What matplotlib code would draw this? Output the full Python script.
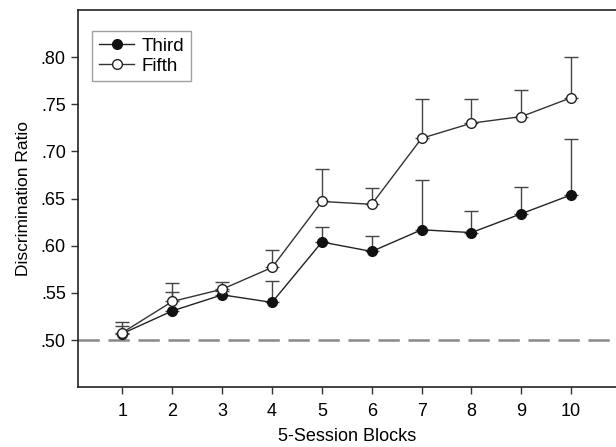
import numpy as np
import matplotlib
matplotlib.use("Agg")
import matplotlib.pyplot as plt
from matplotlib.ticker import FuncFormatter

plt.rcParams['font.family'] = ['Liberation Sans', 'DejaVu Sans']

# data
blocks = [1, 2, 3, 4, 5, 6, 7, 8, 9, 10]
third = [0.507, 0.531, 0.548, 0.540, 0.604, 0.594, 0.617, 0.614, 0.634, 0.654]
third_upper = [0.515, 0.551, 0.552, 0.563, 0.620, 0.610, 0.670, 0.637, 0.662, 0.713]
fifth = [0.508, 0.541, 0.554, 0.577, 0.647, 0.644, 0.714, 0.730, 0.737, 0.757]
fifth_upper = [0.519, 0.561, 0.562, 0.596, 0.681, 0.661, 0.756, 0.756, 0.765, 0.800]
chance = 0.50

fig = plt.figure(figsize=(6.16, 4.47), dpi=100)
ax = fig.add_axes([0.126, 0.1336, 0.874, 0.844])

# chance line
ax.axhline(chance, color='#888888', lw=1.8, dashes=(8.5, 3.5), zorder=1)

# error bars (upper only)
t = np.array(third)
f = np.array(fifth)
ax.errorbar(blocks, t, yerr=[np.zeros_like(t), np.array(third_upper) - t],
            fmt='none', ecolor='#444444', elinewidth=1, capsize=5, capthick=1, zorder=2)
ax.errorbar(blocks, f, yerr=[np.zeros_like(f), np.array(fifth_upper) - f],
            fmt='none', ecolor='#444444', elinewidth=1, capsize=5, capthick=1, zorder=2)

ax.plot(blocks, third, '-o', color='#222222', lw=1, ms=7, mfc='#111111',
        mec='#111111', label='Third', zorder=3)
ax.plot(blocks, fifth, '-o', color='#333333', lw=1, ms=7, mfc='white',
        mec='#222222', mew=1, label='Fifth', zorder=4)

ax.set_xlim(0.1, 10.9)
ax.set_ylim(0.45, 0.85)
ax.set_xticks(blocks)
ax.set_yticks([0.50, 0.55, 0.60, 0.65, 0.70, 0.75, 0.80])
ax.yaxis.set_major_formatter(FuncFormatter(lambda v, p: ('%.2f' % v)[1:]))
ax.tick_params(direction='out', length=5, width=1, labelsize=13, color='#333333')
ax.tick_params(axis='x', pad=6)
ax.spines['right'].set_visible(False)
for s in ['left', 'bottom', 'top']:
    ax.spines[s].set_linewidth(1.2)
    ax.spines[s].set_color('#222222')

ax.set_xlabel('5-Session Blocks', fontsize=13, labelpad=6)
ax.set_ylabel('Discrimination Ratio', fontsize=12.5, labelpad=7)

leg = ax.legend(loc='upper left', bbox_to_anchor=(0.027, 0.944), fontsize=13.5,
                frameon=True, fancybox=False, edgecolor='#888888',
                handlelength=1.9, handletextpad=0.4, borderpad=0.35,
                labelspacing=0.15, borderaxespad=0)
leg.get_frame().set_linewidth(1)

fig.savefig('out.png', dpi=100)
